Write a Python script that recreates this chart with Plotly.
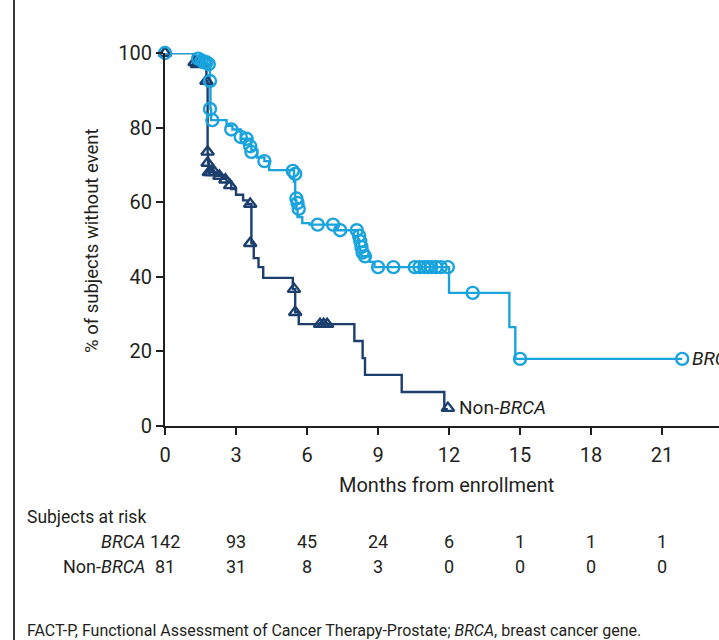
import plotly.graph_objects as go

# ---------------- data ----------------
month_ticks = [0, 3, 6, 9, 12, 15, 18, 21]
pct_ticks = [0, 20, 40, 60, 80, 100]

# BRCA Kaplan-Meier step curve (months, % without event)
brca_t = [0, 1.3, 1.5, 1.7, 1.9, 1.92, 1.95, 2.6, 2.85, 3.2, 3.65, 3.9, 4.2, 4.4,
          5.45, 5.5, 5.55, 5.6, 5.8, 6.1, 7.25, 8.15, 8.2, 8.25, 8.3, 8.65, 8.85,
          12.0, 14.55, 14.8, 21.85]
brca_s = [100, 99, 98, 97, 92.5, 85, 82, 80.5, 79.5, 77, 74, 72, 71, 68.6,
          65.5, 60.5, 58, 56, 54.4, 54, 52.5, 50, 48, 46, 45.5, 44, 42.6,
          35.7, 26.5, 18, 18]
# BRCA censored observations
brca_cens_t = [0, 1.4, 1.55, 1.65, 1.75, 1.85, 1.9, 1.9, 2.0, 2.8, 3.2, 3.45, 3.6,
               3.65, 4.2, 5.4, 5.5, 5.55, 5.6, 5.65, 6.45, 7.1, 7.4, 8.1, 8.2, 8.25,
               8.3, 8.35, 8.45, 9.0, 9.65, 10.55, 10.75, 10.95, 11.1, 11.25, 11.45,
               11.65, 11.95, 13.0, 15.0, 21.85]
brca_cens_s = [100, 98.5, 98, 97.5, 97.5, 97, 92.5, 85, 82, 79.5, 77.5, 77, 75,
               73.5, 71, 68.4, 67.6, 61, 59.8, 58.2, 54, 54, 52.5, 52.5, 51, 49.5,
               48, 46.5, 45.5, 42.6, 42.6, 42.6, 42.6, 42.6, 42.6, 42.6, 42.6,
               42.6, 42.6, 35.7, 18, 18]

# Non-BRCA Kaplan-Meier step curve
non_t = [0, 1.2, 1.75, 1.8, 1.82, 1.85, 2.2, 2.4, 2.6, 2.8, 3.0, 3.3, 3.5, 3.65,
         3.75, 3.95, 4.15, 5.4, 5.5, 5.65, 8.0, 8.35, 8.45, 10.0, 11.8, 11.95]
non_s = [100, 97, 92.5, 73, 70.5, 68, 67, 66.5, 65.5, 63.5, 62, 60.5, 59.5, 49,
         45, 42.6, 39.7, 36.7, 30.5, 27.3, 22.8, 18.2, 13.7, 9.1, 4.5, 4.5]
# Non-BRCA censored observations
non_cens_t = [0, 1.25, 1.35, 1.75, 1.8, 1.8, 1.85, 1.95, 2.1, 2.3, 2.55, 2.75,
              3.6, 3.6, 5.45, 5.5, 6.55, 6.7, 6.85, 11.95]
non_cens_s = [100, 97.5, 97, 92.5, 73.5, 70.5, 68, 68, 68, 67, 66, 64.5,
              59.5, 49, 36.7, 30.5, 27.3, 27.3, 27.3, 4.8]

risk_brca = [142, 93, 45, 24, 6, 1, 1, 1]
risk_non = [81, 31, 8, 3, 0, 0, 0, 0]

# ---------------- style ----------------
BRCA_C = "#1AA3DD"
NON_C = "#1C3F6E"
TXT = "#231F20"
FONT = "Roboto, Arial, sans-serif"

W, H = 719, 640
ML, MR, MT, MB = 165, 0, 53, 214
plot_w = W - ML - MR
plot_h = H - MT - MB


def px_x(px):
    return (px - ML) / plot_w


def px_y(py):
    return (H - MB - py) / plot_h


fig = go.Figure()

fig.add_trace(go.Scatter(x=non_t, y=non_s, mode="lines", line=dict(color=NON_C, width=2.4, shape="hv"),
                         cliponaxis=False, showlegend=False, hoverinfo="skip"))
fig.add_trace(go.Scatter(x=brca_t, y=brca_s, mode="lines", line=dict(color=BRCA_C, width=2.4, shape="hv"),
                         cliponaxis=False, showlegend=False, hoverinfo="skip"))
fig.add_trace(go.Scatter(x=non_cens_t, y=non_cens_s, mode="markers",
                         marker=dict(symbol="triangle-up-open", size=11, color=NON_C, line=dict(width=2.4)),
                         cliponaxis=False, showlegend=False))
fig.add_trace(go.Scatter(x=brca_cens_t, y=brca_cens_s, mode="markers",
                         marker=dict(symbol="circle-open", size=12, color=BRCA_C, line=dict(width=2.4)),
                         cliponaxis=False, showlegend=False))


def txt(x, y, text, size, xref="paper", xanchor="center", angle=0):
    return dict(x=x, y=y, xref=xref, yref="paper", text=text, showarrow=False,
                xanchor=xanchor, yanchor="middle", textangle=angle,
                font=dict(size=size, color=TXT, family=FONT))


ann = []
# curve labels
ann.append(dict(x=12.35, y=5.0, xref="x", yref="y", text="Non-<i>BRCA</i>", showarrow=False,
                xanchor="left", yanchor="middle", font=dict(size=19, color=TXT, family=FONT)))
ann.append(dict(x=22.2, y=18, xref="x", yref="y", text="<i>BRCA</i>", showarrow=False,
                xanchor="left", yanchor="middle", font=dict(size=19, color=TXT, family=FONT)))
# axis titles
ann.append(txt(px_x(92), px_y(240), "% of subjects without event", 18.5, angle=-90))
ann.append(txt(11.9, px_y(485), "Months from enrollment", 20, xref="x"))
# at-risk table
ann.append(txt(px_x(25), px_y(517), "Subjects at risk", 17.5, xanchor="left"))
ann.append(txt(px_x(147), px_y(541), "<i>BRCA</i>", 18, xanchor="right"))
ann.append(txt(px_x(147), px_y(566), "Non-<i>BRCA</i>", 18, xanchor="right"))
for m, a, b in zip(month_ticks, risk_brca, risk_non):
    ann.append(txt(m, px_y(541), str(a), 18, xref="x"))
    ann.append(txt(m, px_y(566), str(b), 18, xref="x"))
# footnote
ann.append(txt(px_x(25), px_y(630),
               "FACT-P, Functional Assessment of Cancer Therapy-Prostate; <i>BRCA</i>, breast cancer gene.",
               16, xanchor="left"))

shapes = [dict(type="line", xref="paper", yref="paper", x0=px_x(14), x1=px_x(14), y0=px_y(0), y1=px_y(640),
               line=dict(color="#3a3a3a", width=2))]

fig.update_layout(
    width=W, height=H,
    margin=dict(l=ML, r=MR, t=MT, b=MB, pad=0),
    paper_bgcolor="white", plot_bgcolor="white",
    annotations=ann, shapes=shapes,
    font=dict(family=FONT, color=TXT),
    xaxis=dict(range=[0, plot_w / 23.67], tickvals=month_ticks, showgrid=False, zeroline=False,
               showline=True, linecolor=TXT, linewidth=2, ticks="outside", ticklen=7, tickwidth=2,
               tickcolor=TXT, ticklabelstandoff=3, tickfont=dict(size=20, color=TXT, family=FONT)),
    yaxis=dict(range=[0, 100], tickvals=pct_ticks, showgrid=False, zeroline=False,
               showline=True, linecolor=TXT, linewidth=2, ticks="outside", ticklen=7, tickwidth=2,
               tickcolor=TXT, tickfont=dict(size=20, color=TXT, family=FONT)),
)

fig.write_html("out.html")
